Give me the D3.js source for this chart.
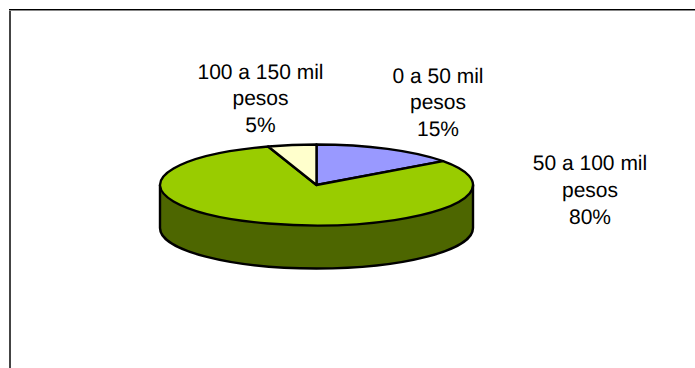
<!DOCTYPE html>
<html>
<head>
<meta charset="utf-8">
<script src="https://cdn.jsdelivr.net/npm/d3@7/dist/d3.min.js"></script>
<style>
  html, body { margin: 0; padding: 0; background: #fff; }
  svg { display: block; }
  text { font-family: "Liberation Sans", Arial, sans-serif; font-size: 21px; fill: #000; text-rendering: geometricPrecision; }
</style>
</head>
<body>
<svg id="chart" width="695" height="368"></svg>
<script>
const categories = ["0 a 50 mil", "50 a 100 mil", "100 a 150 mil"];
const unit = "pesos";
const shares = [15, 80, 5];
const topColors = ["#9999ff", "#99cc00", "#ffffcc"];
const wallColor = "#4d6600";

const width = 695, height = 368;
const cx = 316.5, cy = 185, rx = 156.5, ry = 40.5, depth = 43;
const outline = 2.4;
const labelAnchors = [[438, 82.5], [590, 170], [260.5, 78.5]];
const lineStep = 26.8;

const svg = d3.select("#chart");

// Chart frame: only the top and left edges fall inside the canvas.
const edge = d3.line();
svg.append("path").attr("d", edge([[10, 9], [10, height]]))
  .attr("stroke", "#444").attr("stroke-width", 2).attr("fill", "none");
svg.append("path").attr("d", edge([[9, 10.5], [width, 10.5]]))
  .attr("stroke", "#888").attr("stroke-width", 1).attr("fill", "none");
svg.append("path").attr("d", edge([[9, 9.5], [width, 9.5]]))
  .attr("stroke", "#000").attr("stroke-width", 1).attr("fill", "none");

const slices = d3.pie().sort(null).value(d => d)(shares);

// Angle 0 points up and runs clockwise, squashed to an ellipse for the tilted disc.
const project = a => [cx + rx * Math.sin(a), cy - ry * Math.cos(a)];

// Side wall: the front half of the rim, extruded downwards.
const wall = d3.path();
wall.moveTo(cx - rx, cy);
wall.lineTo(cx - rx, cy + depth);
wall.bezierCurveTo(cx - rx, cy + depth + ry * 0.5523, cx - rx * 0.5523, cy + depth + ry, cx, cy + depth + ry);
wall.bezierCurveTo(cx + rx * 0.5523, cy + depth + ry, cx + rx, cy + depth + ry * 0.5523, cx + rx, cy + depth);
wall.lineTo(cx + rx, cy);
wall.closePath();

svg.append("path")
  .attr("d", wall.toString())
  .attr("fill", wallColor)
  .attr("stroke", "#000")
  .attr("stroke-width", outline)
  .attr("stroke-linejoin", "round");

// Top face of the disc, one elliptical sector per share.
svg.append("g")
  .selectAll("path")
  .data(slices)
  .join("path")
  .attr("d", d => {
    const [x0, y0] = project(d.startAngle);
    const [x1, y1] = project(d.endAngle);
    const large = d.endAngle - d.startAngle > Math.PI ? 1 : 0;
    return `M${cx},${cy}L${x0},${y0}A${rx},${ry} 0 ${large} 1 ${x1},${y1}Z`;
  })
  .attr("fill", (d, i) => topColors[i])
  .attr("stroke", "#000")
  .attr("stroke-width", outline)
  .attr("stroke-linejoin", "round");

// Three-line labels: range, unit, share.
const labels = svg.append("g")
  .selectAll("text")
  .data(categories)
  .join("text")
  .attr("text-anchor", "middle")
  .attr("x", (d, i) => labelAnchors[i][0])
  .attr("y", (d, i) => labelAnchors[i][1]);

labels.selectAll("tspan")
  .data((d, i) => [d, unit, shares[i] + "%"])
  .join("tspan")
  .attr("x", function () { return this.parentNode.getAttribute("x"); })
  .attr("dy", (d, i) => i === 0 ? 0 : lineStep)
  .text(d => d);
</script>
</body>
</html>
